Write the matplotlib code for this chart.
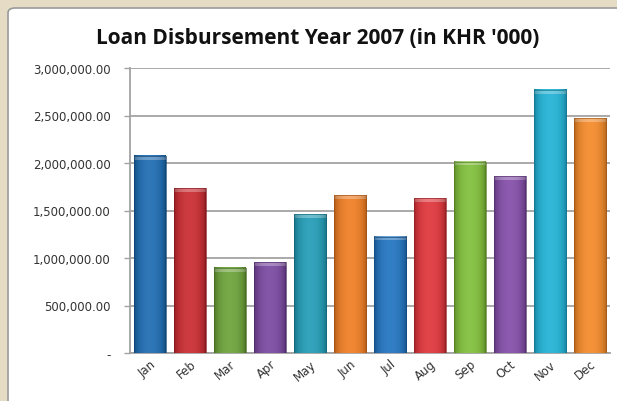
import matplotlib.pyplot as plt
import numpy as np
from matplotlib.patches import FancyBboxPatch, Rectangle
from matplotlib.colors import to_rgb
from matplotlib.ticker import FuncFormatter

# monthly loan disbursement, KHR '000
months = ["Jan", "Feb", "Mar", "Apr", "May", "Jun",
          "Jul", "Aug", "Sep", "Oct", "Nov", "Dec"]
amounts = [2075000, 1735000, 895000, 955000, 1460000, 1660000,
           1225000, 1630000, 2015000, 1860000, 2770000, 2470000]
bar_colors = ["#1868b0", "#c8262c", "#69a035", "#76449e", "#1c9ab4", "#ef7a1e",
              "#1c70be", "#de3036", "#7dbd36", "#8049a6", "#1cb0d4", "#f38724"]

fig = plt.figure(figsize=(6.17, 4.02), dpi=100)
fig.patch.set_facecolor("#e6dcc6")

# white panel with a grey rounded border
panel_top = 1 - 9 / 402
panel = FancyBboxPatch((8 / 617, -0.05), 1.05, panel_top + 0.05,
                       boxstyle="round,pad=0,rounding_size=0.012",
                       transform=fig.transFigure, facecolor="white",
                       edgecolor="#9a9a9a", linewidth=1.2, zorder=-5)
fig.patches.append(panel)

ax = fig.add_axes([130 / 617, 1 - 354 / 402, 480 / 617, 285 / 402])
ax.set_facecolor("none")

ymax = 3000000
width = 0.8
x = np.arange(len(months))

# horizontal shading profile for the cylinder look
t = np.linspace(0, 1, 64)
light = np.clip(np.sin(np.pi * t) ** 0.8, 0, 1)
edge = 1 - np.sin(np.pi * t) ** 0.35


def shaded(c, lift=0.1):
    base = np.array(to_rgb(c))
    img = base[None, :] * (1 - 0.4 * edge[:, None])
    img = img + (1 - img) * (lift * light[:, None])
    return np.clip(img, 0, 1)[None, :, :]


cap = 40000
for xi, h, c in zip(x, amounts, bar_colors):
    x0, x1 = xi - width / 2, xi + width / 2
    ax.imshow(shaded(c), extent=(x0, x1, 0, h), aspect="auto",
              interpolation="bilinear", zorder=3)
    top = np.array(to_rgb(c))
    top = top + (1 - top) * 0.3
    ax.imshow(shaded(tuple(top)), extent=(x0, x1, h - cap, h), aspect="auto",
              interpolation="bilinear", zorder=4)
    ax.add_patch(Rectangle((x0, 0), width, h, facecolor="none",
                           edgecolor=np.array(to_rgb(c)) * 0.7,
                           linewidth=0.5, zorder=5))

ax.set_xlim(-0.5, 11.5)
ax.set_ylim(0, ymax)

ax.set_yticks(np.arange(0, ymax + 1, 500000))
ax.yaxis.set_major_formatter(
    FuncFormatter(lambda v, p: "-" if v == 0 else f"{v:,.2f}"))
ax.grid(axis="y", color="#a3a3a3", linewidth=1.3, zorder=1)
ax.set_axisbelow(True)

for s in ["top", "right"]:
    ax.spines[s].set_visible(False)
for s in ["left", "bottom"]:
    ax.spines[s].set_color("#a3a3a3")
    ax.spines[s].set_linewidth(1.3)

ax.tick_params(axis="y", length=4, width=1, color="#a3a3a3", pad=10,
               labelsize=8.5, labelcolor="#333333")
ax.tick_params(axis="x", length=0, pad=3, labelsize=8.5, labelcolor="#333333")
ax.set_xticks(x)
ax.set_xticklabels(months, rotation=40, ha="right", rotation_mode="anchor")

fig.text(318 / 617, 1 - 38 / 402, "Loan Disbursement Year 2007 (in KHR '000)",
         ha="center", va="center", fontsize=15, fontweight="bold",
         fontfamily="Open Sans", color="#111111")

fig.savefig("out.png", dpi=100, facecolor=fig.get_facecolor())
